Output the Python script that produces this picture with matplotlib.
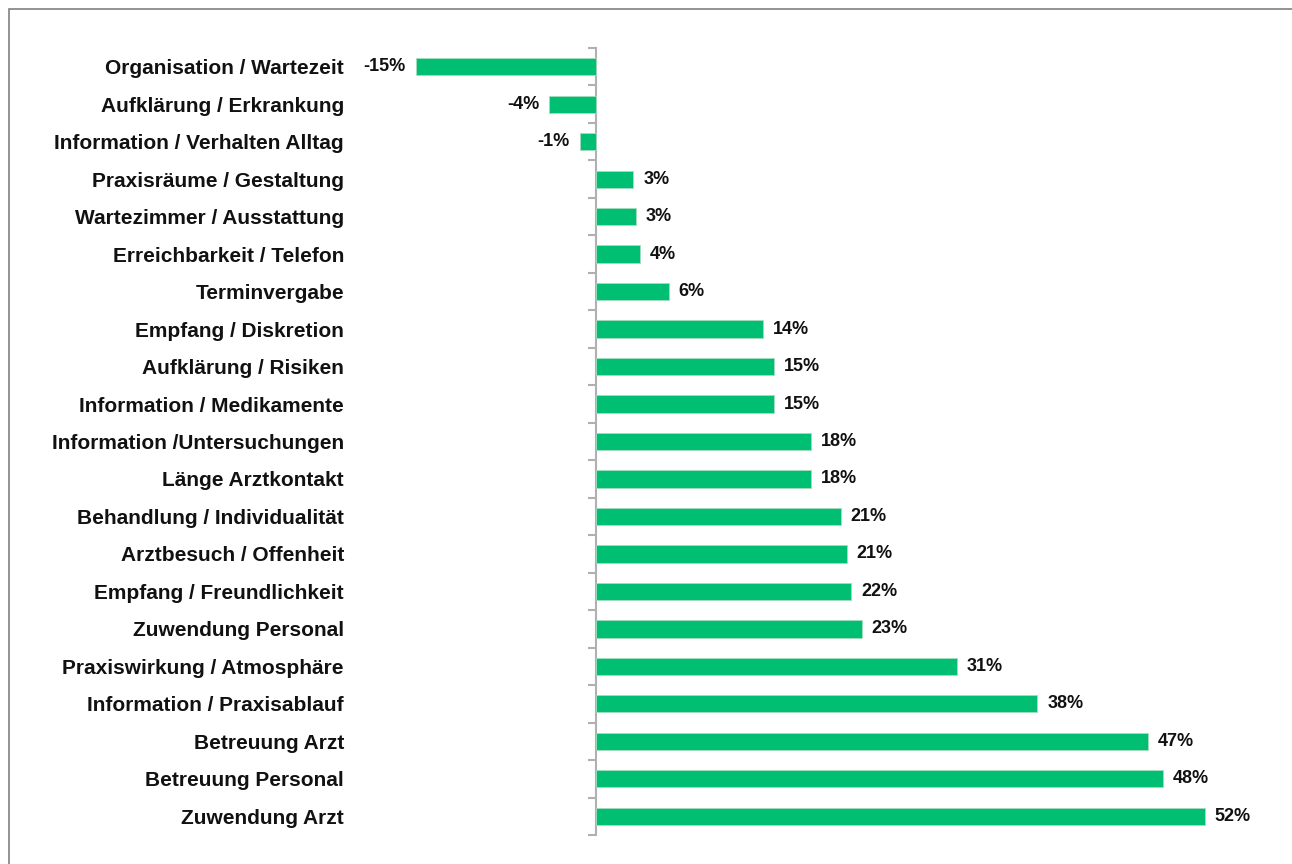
import matplotlib
matplotlib.use('Agg')
import matplotlib.pyplot as plt
from matplotlib.patches import Rectangle

categories = [
    'Organisation / Wartezeit', 'Aufklärung / Erkrankung', 'Information / Verhalten Alltag',
    'Praxisräume / Gestaltung', 'Wartezimmer / Ausstattung', 'Erreichbarkeit / Telefon',
    'Terminvergabe', 'Empfang / Diskretion', 'Aufklärung / Risiken',
    'Information / Medikamente', 'Information /Untersuchungen', 'Länge Arztkontakt',
    'Behandlung / Individualität', 'Arztbesuch / Offenheit', 'Empfang / Freundlichkeit',
    'Zuwendung Personal', 'Praxiswirkung / Atmosphäre', 'Information / Praxisablauf',
    'Betreuung Arzt', 'Betreuung Personal', 'Zuwendung Arzt',
]
values = [-15.4, -4.0, -1.4, 3.2, 3.4, 3.8, 6.2, 14.3, 15.2, 15.2, 18.4, 18.4,
          20.9, 21.4, 21.8, 22.7, 30.8, 37.7, 47.1, 48.4, 52.0]

plt.rcParams['font.family'] = ['Liberation Sans', 'DejaVu Sans']
plt.rcParams['font.weight'] = 'bold'

fig = plt.figure(figsize=(12.92, 8.64), dpi=100)
W, H = 1292, 864
x0_px, px_per = 596, 11.71
left_px, right_px = 355, 1250
top_px, bot_px = 48, 835
ax = fig.add_axes([left_px / W, (H - bot_px) / H,
                   (right_px - left_px) / W, (bot_px - top_px) / H])

ypos = list(range(len(categories)))
bars = ax.barh(ypos, values, height=0.46, color='#00BF72',
               edgecolor='#a6dcc0', linewidth=0.6)
ax.set_xlim(-(x0_px - left_px) / px_per, (right_px - x0_px) / px_per)
ax.set_ylim(len(categories) - 0.5, -0.5)

ax.set_yticks(ypos)
ax.set_yticklabels(categories, fontsize=15, fontweight='bold', color='#111111')
ax.tick_params(axis='y', length=0, pad=8)
ax.set_xticks([])
for s in ax.spines.values():
    s.set_visible(False)

ax.bar_label(bars, labels=[f'{v:.0f}%' for v in values], padding=7,
             fontsize=13, fontweight='bold', color='#111111')

# gray axis at zero with boundary ticks
frac0 = (0 - ax.get_xlim()[0]) / (ax.get_xlim()[1] - ax.get_xlim()[0])
sec = ax.secondary_yaxis(frac0)
sec.set_yticks([i - 0.5 for i in range(len(categories) + 1)])
sec.set_yticklabels([])
sec.tick_params(axis='y', direction='out', length=6, width=1.5, color='#b0b0b0')
sec.spines['left'].set_color('#b0b0b0')
sec.spines['left'].set_linewidth(1.5)

# outer frame
fig.patches.append(Rectangle((9 / W, -0.1), 1.2, 1.1 - 9 / H,
                             transform=fig.transFigure, fill=False,
                             edgecolor='#808080', linewidth=1.2))

fig.savefig('out.png', dpi=100)
